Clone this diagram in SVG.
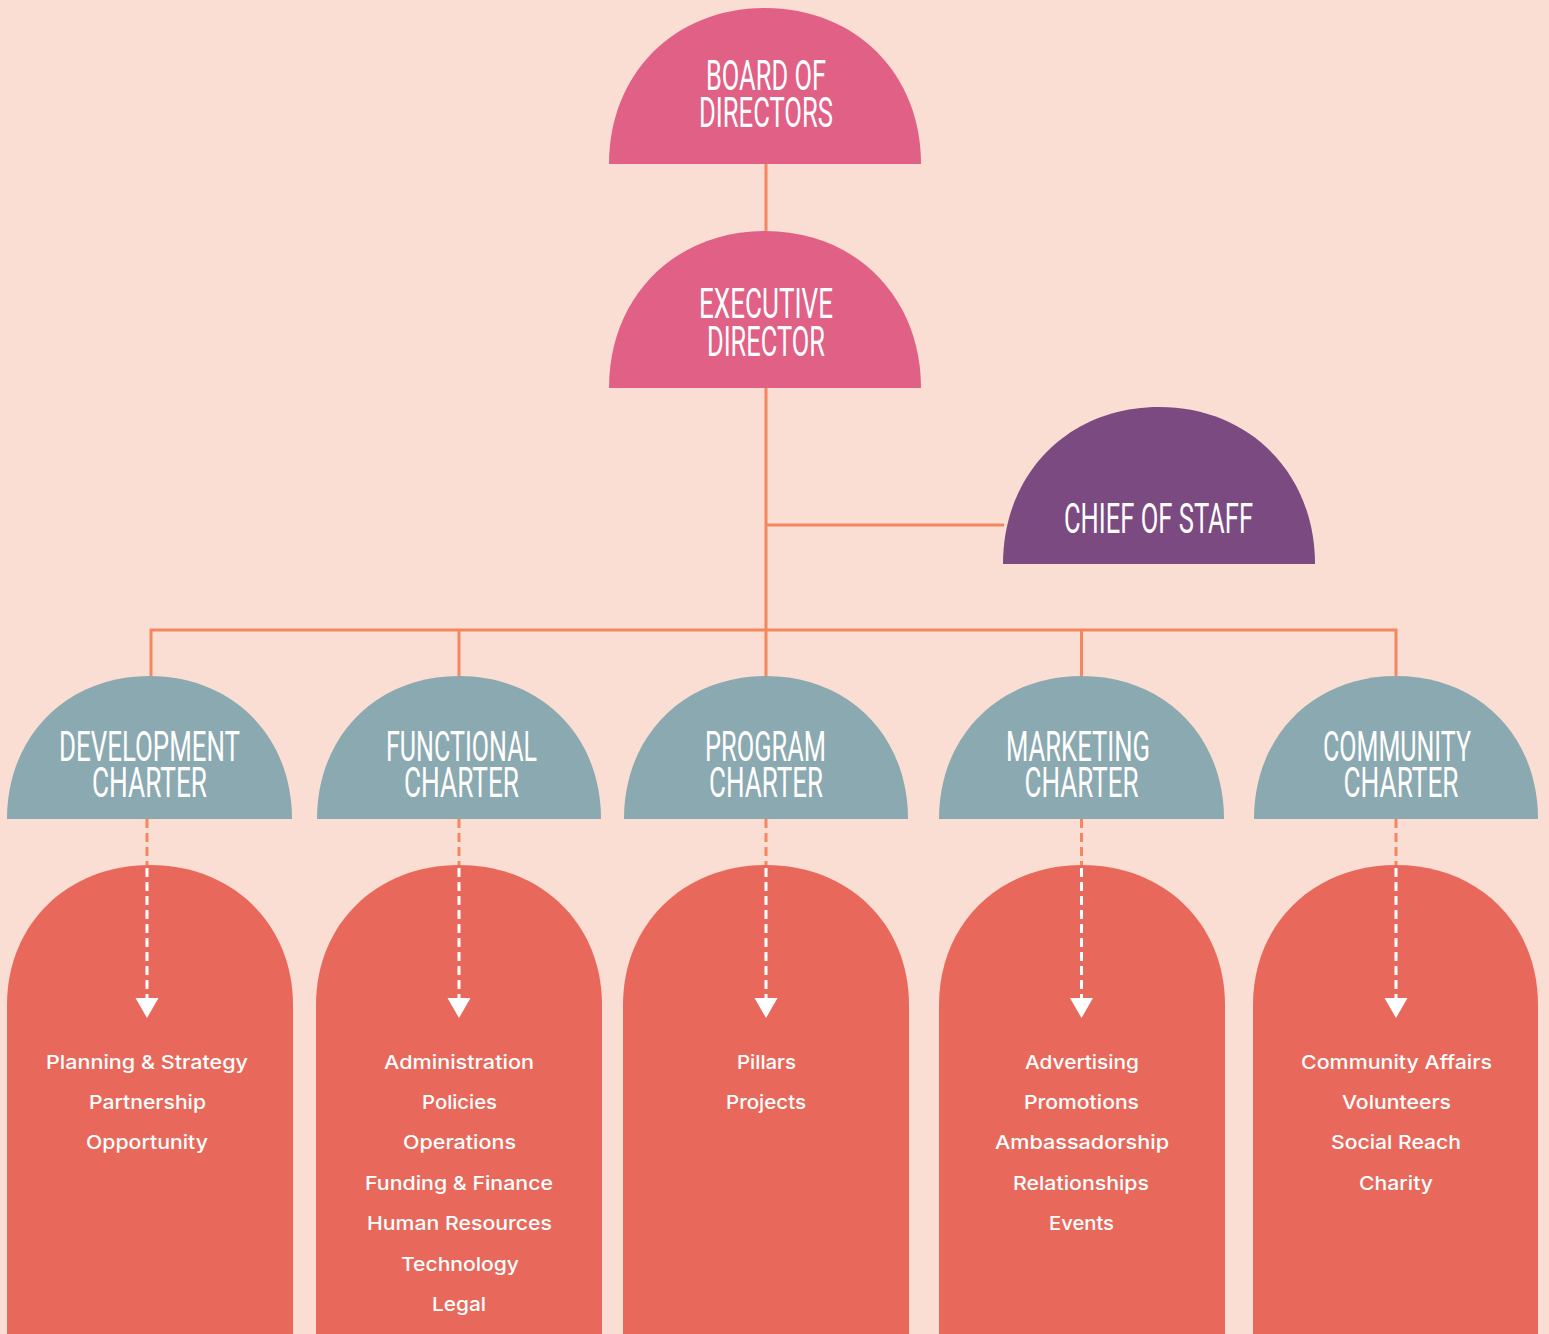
<svg xmlns="http://www.w3.org/2000/svg" width="1549" height="1334" viewBox="0 0 1549 1334">
<defs>
<style>
.bg{fill:#FBDED3}
.pink{fill:#E06086}
.purple{fill:#7A4A80}
.blue{fill:#8BA9B0}
.red{fill:#E8695B}
.title{font-family:Roboto,"Liberation Sans",sans-serif;font-weight:400;font-size:42px;fill:#FFFFFF;text-anchor:middle}
.item{font-family:Inter,"Noto Sans","Liberation Sans",sans-serif;font-weight:500;font-size:19px;fill:#FFFFFF;text-anchor:middle}
.line{stroke:#F4875F;stroke-width:3;fill:none}
.dashO{stroke:#F4875F;stroke-width:3;fill:none;stroke-dasharray:9 5}
.dashW{stroke:#FFFFFF;stroke-width:3;fill:none;stroke-dasharray:9 5}
.arrow{fill:#FFFFFF}
</style>
</defs>
<rect class="bg" x="0" y="0" width="1549" height="1334"/>

<g id="board-of-directors">
<path class="pink" d="M609,164 C609,73.5 674.5,8 765,8 C855.5,8 921,73.5 921,164 Z"/>
<text class="title" x="766" y="90" textLength="120" lengthAdjust="spacingAndGlyphs">BOARD OF</text>
<text class="title" x="766" y="127" textLength="134" lengthAdjust="spacingAndGlyphs">DIRECTORS</text>
</g>

<g id="executive-director">
<path class="pink" d="M609,388 C609,297 674.5,231 765,231 C855.5,231 921,297 921,388 Z"/>
<text class="title" x="766" y="318" textLength="134" lengthAdjust="spacingAndGlyphs">EXECUTIVE</text>
<text class="title" x="766" y="356" textLength="118" lengthAdjust="spacingAndGlyphs">DIRECTOR</text>
</g>

<g id="chief-of-staff">
<path class="purple" d="M1003,564 C1003,473.5 1068.5,407 1159,407 C1249.5,407 1315,473.5 1315,564 Z"/>
<text class="title" x="1158.5" y="533" textLength="189" lengthAdjust="spacingAndGlyphs">CHIEF OF STAFF</text>
</g>

<g id="development-charter">
<path class="blue" d="M7,819 C7,736 66.9,676 149.5,676 C232.1,676 292,736 292,819 Z"/>
<text class="title" x="149.5" y="761" textLength="181" lengthAdjust="spacingAndGlyphs">DEVELOPMENT</text>
<text class="title" x="149.5" y="797" textLength="115" lengthAdjust="spacingAndGlyphs">CHARTER</text>
</g>

<g id="functional-charter">
<path class="blue" d="M317,819 C317,736 376.4,676 459,676 C541.6,676 601,736 601,819 Z"/>
<text class="title" x="461.5" y="761" textLength="151" lengthAdjust="spacingAndGlyphs">FUNCTIONAL</text>
<text class="title" x="461.5" y="797" textLength="115" lengthAdjust="spacingAndGlyphs">CHARTER</text>
</g>

<g id="program-charter">
<path class="blue" d="M624,819 C624,736 683.4,676 766,676 C848.6,676 908,736 908,819 Z"/>
<text class="title" x="765.5" y="761" textLength="121" lengthAdjust="spacingAndGlyphs">PROGRAM</text>
<text class="title" x="766" y="797" textLength="114" lengthAdjust="spacingAndGlyphs">CHARTER</text>
</g>

<g id="marketing-charter">
<path class="blue" d="M939,819 C939,736 998.9,676 1081.5,676 C1164.1,676 1224,736 1224,819 Z"/>
<text class="title" x="1078" y="761" textLength="144" lengthAdjust="spacingAndGlyphs">MARKETING</text>
<text class="title" x="1081.5" y="797" textLength="114" lengthAdjust="spacingAndGlyphs">CHARTER</text>
</g>

<g id="community-charter">
<path class="blue" d="M1254,819 C1254,736 1313.4,676 1396,676 C1478.6,676 1538,736 1538,819 Z"/>
<text class="title" x="1397" y="761" textLength="148" lengthAdjust="spacingAndGlyphs">COMMUNITY</text>
<text class="title" x="1401" y="797" textLength="115" lengthAdjust="spacingAndGlyphs">CHARTER</text>
</g>

<g id="development-list">
<path class="red" d="M7,1334 V1005 C7,924 67.4,865 150,865 C232.6,865 293,924 293,1005 V1334 Z"/>
<text class="item" x="147" y="1069" textLength="202" lengthAdjust="spacingAndGlyphs">Planning &amp; Strategy</text>
<text class="item" x="147.5" y="1109" textLength="117" lengthAdjust="spacingAndGlyphs">Partnership</text>
<text class="item" x="147" y="1149" textLength="122" lengthAdjust="spacingAndGlyphs">Opportunity</text>
</g>

<g id="functional-list">
<path class="red" d="M316,1334 V1005 C316,924 376.4,865 459,865 C541.6,865 602,924 602,1005 V1334 Z"/>
<text class="item" x="459" y="1069" textLength="150" lengthAdjust="spacingAndGlyphs">Administration</text>
<text class="item" x="459.5" y="1109" textLength="75" lengthAdjust="spacingAndGlyphs">Policies</text>
<text class="item" x="459.5" y="1149" textLength="113" lengthAdjust="spacingAndGlyphs">Operations</text>
<text class="item" x="459" y="1190" textLength="188" lengthAdjust="spacingAndGlyphs">Funding &amp; Finance</text>
<text class="item" x="459.5" y="1230" textLength="185" lengthAdjust="spacingAndGlyphs">Human Resources</text>
<text class="item" x="460" y="1271" textLength="118" lengthAdjust="spacingAndGlyphs">Technology</text>
<text class="item" x="459" y="1311" textLength="54" lengthAdjust="spacingAndGlyphs">Legal</text>
</g>

<g id="program-list">
<path class="red" d="M623,1334 V1005 C623,924 683.4,865 766,865 C848.6,865 909,924 909,1005 V1334 Z"/>
<text class="item" x="766.5" y="1069" textLength="59" lengthAdjust="spacingAndGlyphs">Pillars</text>
<text class="item" x="766" y="1109" textLength="80" lengthAdjust="spacingAndGlyphs">Projects</text>
</g>

<g id="marketing-list">
<path class="red" d="M939,1334 V1005 C939,924 999.4,865 1082,865 C1164.6,865 1225,924 1225,1005 V1334 Z"/>
<text class="item" x="1082" y="1069" textLength="114" lengthAdjust="spacingAndGlyphs">Advertising</text>
<text class="item" x="1081.5" y="1109" textLength="115" lengthAdjust="spacingAndGlyphs">Promotions</text>
<text class="item" x="1082" y="1149" textLength="174" lengthAdjust="spacingAndGlyphs">Ambassadorship</text>
<text class="item" x="1081" y="1190" textLength="136" lengthAdjust="spacingAndGlyphs">Relationships</text>
<text class="item" x="1081.5" y="1230" textLength="65" lengthAdjust="spacingAndGlyphs">Events</text>
</g>

<g id="community-list">
<path class="red" d="M1253,1334 V1005 C1253,924 1313.4,865 1396,865 C1478.6,865 1538,924 1538,1005 V1334 Z"/>
<text class="item" x="1396.5" y="1069" textLength="191" lengthAdjust="spacingAndGlyphs">Community Affairs</text>
<text class="item" x="1396.5" y="1109" textLength="109" lengthAdjust="spacingAndGlyphs">Volunteers</text>
<text class="item" x="1396" y="1149" textLength="130" lengthAdjust="spacingAndGlyphs">Social Reach</text>
<text class="item" x="1396" y="1190" textLength="74" lengthAdjust="spacingAndGlyphs">Charity</text>
</g>

<g id="connectors">
<path class="line" d="M766,164 V231"/>
<path class="line" d="M766,388 V676"/>
<path class="line" d="M766,525 H1004"/>
<path class="line" d="M151,676 V630 H1396 V676"/>
<path class="line" d="M459,630 V676"/>
<path class="line" d="M1081.5,630 V676"/>
<g>
<path class="dashO" d="M147,819 V865"/>
<path class="dashO" d="M459,819 V865"/>
<path class="dashO" d="M766,819 V865"/>
<path class="dashO" d="M1081.5,819 V865"/>
<path class="dashO" d="M1396,819 V865"/>
<path class="dashW" d="M147,868 V1000"/>
<path class="dashW" d="M459,868 V1000"/>
<path class="dashW" d="M766,868 V1000"/>
<path class="dashW" d="M1081.5,868 V1000"/>
<path class="dashW" d="M1396,868 V1000"/>
<polygon class="arrow" points="135.5,998 158.5,998 147,1018"/>
<polygon class="arrow" points="447.5,998 470.5,998 459,1018"/>
<polygon class="arrow" points="754.5,998 777.5,998 766,1018"/>
<polygon class="arrow" points="1070,998 1093,998 1081.5,1018"/>
<polygon class="arrow" points="1384.5,998 1407.5,998 1396,1018"/>
</g>
</g>
</svg>
